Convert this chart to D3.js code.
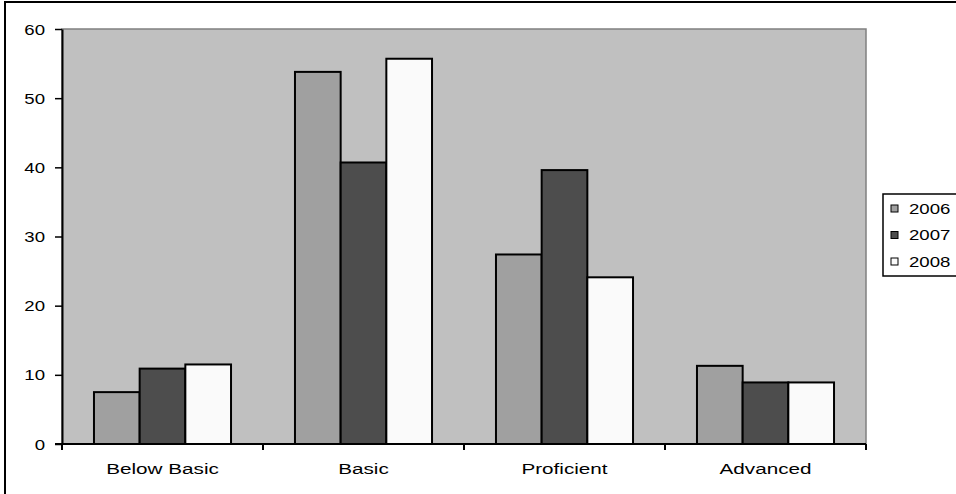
<!DOCTYPE html>
<html>
<head>
<meta charset="utf-8">
<script src="https://cdn.jsdelivr.net/npm/d3@7"></script>
<style>
  html, body { margin: 0; padding: 0; background: #ffffff; }
  svg { display: block; }
  text { font-family: Arial, "Liberation Sans", sans-serif; fill: #000; }
</style>
</head>
<body>
<svg id="chart" width="956" height="494"></svg>
<script>
// Score bands and yearly percentages
const categories = ["Below Basic", "Basic", "Proficient", "Advanced"];
const years = ["2006", "2007", "2008"];
const values2006 = [7.5, 53.8, 27.4, 11.3];
const values2007 = [10.9, 40.7, 39.6, 8.9];
const values2008 = [11.5, 55.7, 24.1, 8.9];
const yTicks = [0, 10, 20, 30, 40, 50, 60];
const colors = ["#a0a0a0", "#4d4d4d", "#fafafa"];

const seriesValues = [values2006, values2007, values2008];
const rows = categories.map((c, i) => ({
  category: c,
  items: years.map((y, j) => ({ year: y, value: seriesValues[j][i], color: colors[j] }))
}));

const svg = d3.select("#chart");
const plot = { left: 62, right: 866, top: 29, bottom: 444 };
const stretch = 1.33; // text is drawn wide

const x = d3.scaleBand().domain(categories).range([plot.left, plot.right]).paddingInner(0).paddingOuter(0);
const xi = d3.scaleBand().domain(years).range([0, x.bandwidth()]).paddingInner(0).paddingOuter(0.7);
const y = d3.scaleLinear().domain([0, 60]).range([plot.bottom, plot.top]);

// outer chart frame
svg.append("rect")
  .attr("x", 5).attr("y", 2).attr("width", 1000).attr("height", 600)
  .attr("fill", "none").attr("stroke", "#000").attr("stroke-width", 2);

// plot area
svg.append("rect")
  .attr("x", plot.left).attr("y", plot.top)
  .attr("width", plot.right - plot.left).attr("height", plot.bottom - plot.top)
  .attr("fill", "#c0c0c0").attr("stroke", "#808080").attr("stroke-width", 1.5);

// bars
const groups = svg.append("g").selectAll("g").data(rows).join("g")
  .attr("transform", d => `translate(${x(d.category)},0)`);
groups.selectAll("rect").data(d => d.items).join("rect")
  .attr("x", d => xi(d.year))
  .attr("y", d => y(d.value))
  .attr("width", xi.bandwidth())
  .attr("height", d => y(0) - y(d.value))
  .attr("fill", d => d.color)
  .attr("stroke", "#000")
  .attr("stroke-width", 2);

// y axis
const yAxis = svg.append("g").attr("transform", `translate(${plot.left},0)`)
  .call(d3.axisLeft(y).tickValues(yTicks).tickSize(7).tickPadding(10).tickSizeOuter(0));
yAxis.select(".domain").attr("stroke", "#000").attr("stroke-width", 2);
yAxis.selectAll(".tick line").attr("stroke", "#000").attr("stroke-width", 1.5);
yAxis.selectAll(".tick text").remove();
yAxis.selectAll(".tick").append("text")
  .attr("transform", `translate(-17,0) scale(${stretch},1)`)
  .attr("text-anchor", "end")
  .attr("dy", "0.36em")
  .attr("font-size", 14)
  .text(d => d);

// x axis with ticks at band boundaries
const xAxis = svg.append("g").attr("transform", `translate(0,${plot.bottom})`);
xAxis.append("line")
  .attr("x1", plot.left - 7).attr("x2", plot.right)
  .attr("stroke", "#000").attr("stroke-width", 2);
const boundaries = categories.map(c => x(c)).concat([plot.right]);
xAxis.selectAll("line.tk").data(boundaries).join("line").attr("class", "tk")
  .attr("x1", d => d).attr("x2", d => d).attr("y1", 0).attr("y2", 6)
  .attr("stroke", "#000").attr("stroke-width", 2);
xAxis.selectAll("text").data(categories).join("text")
  .attr("transform", d => `translate(${x(d) + x.bandwidth() / 2},30) scale(1.38,1)`)
  .attr("text-anchor", "middle")
  .attr("font-size", 15)
  .text(d => d);

// legend
const legend = svg.append("g");
legend.append("rect")
  .attr("x", 883).attr("y", 194).attr("width", 80).attr("height", 82)
  .attr("fill", "#fff").attr("stroke", "#000").attr("stroke-width", 1.5);
const ly = d3.scalePoint().domain(years).range([208.5, 261.5]);
const items = legend.selectAll("g.item").data(years).join("g").attr("class", "item")
  .attr("transform", d => `translate(891,${ly(d)})`);
items.append("rect")
  .attr("x", 0).attr("y", -3.5).attr("width", 7).attr("height", 7)
  .attr("fill", (d, i) => colors[i]).attr("stroke", "#000").attr("stroke-width", 1);
items.append("text")
  .attr("transform", `translate(18,0) scale(${stretch},1)`)
  .attr("dy", "0.36em")
  .attr("font-size", 14)
  .text(d => d);
</script>
</body>
</html>
